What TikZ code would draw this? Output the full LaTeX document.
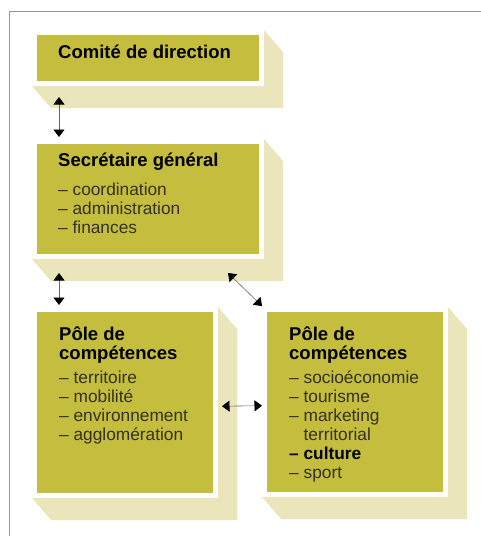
\documentclass[tikz,border=0pt]{standalone}
\usepackage{fontspec}
\setmainfont{Liberation Sans}
\usetikzlibrary{arrows.meta,positioning}
\definecolor{poleolive}{RGB}{197,189,62}
\definecolor{poleshade}{RGB}{234,229,187}
\definecolor{frameline}{RGB}{150,150,150}
\definecolor{itemgray}{RGB}{52,50,30}

% block: shade, white face, olive panel named #1
\newcommand{\polebox}[5]{%
  \fill[poleshade] (#2,#3) -- (#4,#3) -- (#4+19,#3+22) -- (#4+19,#5+22)
    -- (#2+19,#5+22) -- (#2,#5) -- cycle;
  \fill[white] (#2,#3) rectangle (#4,#5);
  \node[panel, minimum width=#4-#2-10, minimum height=#5-#3-10] (#1) at (#2+5,#3+5) {};
}

\begin{document}
\begin{tikzpicture}[x=1pt, y=-1pt,
  panel/.style={rectangle, fill=poleolive, inner sep=0pt, outer sep=0pt, anchor=north west},
  boxtitle/.style={anchor=base west, inner sep=0pt, align=left, font=\fontsize{18.5}{18.7}\selectfont\bfseries},
  boxitems/.style={anchor=base west, inner sep=0pt, align=left, text=itemgray, font=\fontsize{17.3}{19}\selectfont},
  >={Triangle[width=11pt,length=7.5pt,color=black]},
  link/.style={<->, draw=black!60, line width=0.6pt}]
	\useasboundingbox (0,0) rectangle (481,536);
	\draw[frameline, line width=0.8pt] (9,536) -- (9,11) -- (481,11);

	\polebox{cd}{32}{30}{264}{86}
	\polebox{sg}{32}{139}{264}{259}
	\polebox{pl}{32}{307}{218}{498}
	\polebox{pr}{262}{307}{448}{497}

	% base anchors sit on the last line
	\node[boxtitle] (cd-title) at ([shift={(21,23.5)}]cd.north west) {Comité de direction};

	\node[boxtitle] (sg-title) at ([shift={(21,22.7)}]sg.north west) {Secrétaire général};
	\node[boxitems] (sg-list) at ([shift={(0,67)}]sg-title.base west)
		{– coordination\\– administration\\– finances};

	\node[boxtitle] (pl-title) at ([shift={(22,47.3)}]pl.north west) {Pôle de\\compétences};
	\node[boxitems] (pl-list) at ([shift={(0,81)}]pl-title.base west)
		{– territoire\\– mobilité\\– environnement\\– agglomération};

	\node[boxtitle] (pr-title) at ([shift={(22,47.3)}]pr.north west) {Pôle de\\compétences};
	\node[boxitems] (pr-list) at ([shift={(0,119)}]pr-title.base west)
		{– socioéconomie\\– tourisme\\– marketing\\\phantom{– }territorial\\{\color{black}\bfseries – culture}\\– sport};

	% links
	\draw[link] ([shift={(22,16)}]cd.south west) -- ([shift={(22,-7)}]sg.north west);
	\draw[link] ([shift={(22,19)}]sg.south west) -- ([shift={(22,-7)}]pl.north west);
	\draw[link] ([shift={(-31,19)}]sg.south east) -- ([shift={(-5,-6)}]pr.north west);
	\draw[link] ([shift={(9,3.7)}]pl.east) -- ([shift={(-5,3.7)}]pr.west);
\end{tikzpicture}
\end{document}
